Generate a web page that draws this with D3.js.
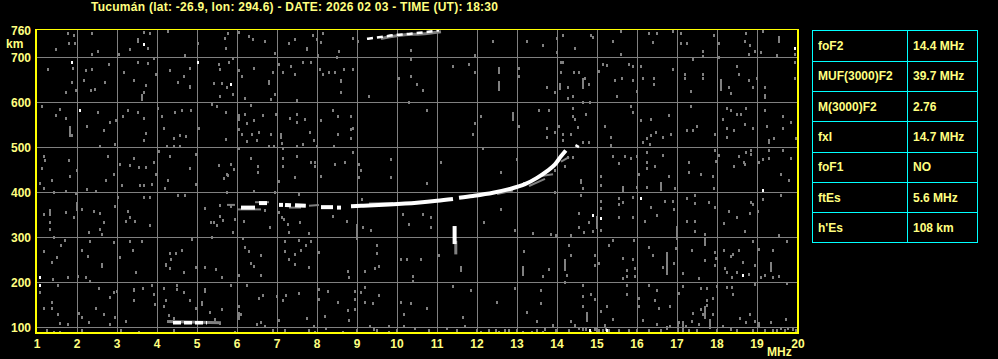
<!DOCTYPE html>
<html>
<head>
<meta charset="utf-8">
<script src="https://cdn.jsdelivr.net/npm/d3@7"></script>
<style>
 body { margin: 0; background: #000; }
 svg { display: block; }
 text { font-family: "Liberation Sans", Arial, sans-serif; font-weight: bold; fill: #ffff80; }
</style>
</head>
<body>
<script>
// header + table
var title = "Tucumán (lat: -26.9, lon: 294.6) - DATE: 2026 02 03 - TIME (UT): 18:30";
var paramNames = ["foF2", "MUF(3000)F2", "M(3000)F2", "fxI", "foF1", "ftEs", "h'Es"];
var paramValues = ["14.4 MHz", "39.7 MHz", "2.76", "14.7 MHz", "NO", "5.6 MHz", "108 km"];

// axes
var freqTicks = [1, 2, 3, 4, 5, 6, 7, 8, 9, 10, 11, 12, 13, 14, 15, 16, 17, 18, 19, 20];
var heightTicks = [100, 200, 300, 400, 500, 600, 700];

// echo traces [MHz, km]
var f2Trace = [
 [[6.1, 366], [6.45, 366]],
 [[6.55, 376], [6.75, 376]],
 [[7.05, 372], [7.15, 372]],
 [[7.2, 372], [7.35, 371]],
 [[7.45, 371], [7.72, 370]],
 [[8.1, 367], [8.4, 367]],
 [[8.5, 366], [8.6, 366]],
 [[8.85, 369], [9.1, 370], [9.8, 373], [10.5, 377], [11.0, 381], [11.4, 385]],
 [[11.55, 388], [11.9, 392], [12.4, 399], [12.8, 407], [13.2, 418], [13.5, 432], [13.75, 447], [13.95, 462], [14.1, 480], [14.22, 493]],
 [[14.49, 500], [14.52, 505]]
];
var f2Shadow = [
 [[5.75, 372], [5.95, 372]],
 [[6.0, 362], [6.6, 362]],
 [[6.45, 378], [6.8, 378]],
 [[7.3, 366], [7.6, 366]],
 [[7.8, 370], [8.05, 372]],
 [[9.3, 375], [9.9, 376]],
 [[12.5, 396], [12.9, 404]],
 [[13.3, 414], [13.7, 430]],
 [[13.6, 436], [13.9, 440]],
 [[14.1, 468], [14.3, 478]]
];
var topTrace = [[9.25, 741], [9.6, 745], [9.9, 749], [10.3, 752], [10.7, 756], [11.05, 760]];
var topShadow = [[9.6, 742], [10.2, 750], [10.6, 752], [11.1, 757]];
var esTrace = [[4.4, 110], [5.25, 110]];
var esShadow = [[4.25, 113], [5.6, 110]];
var spike = [11.44, 285, 325];
var spikeShadow = [11.47, 262, 292];

// vertical noise streaks [MHz, km from, km to]
var streaks = [
 [12.54, 663, 678], [12.54, 626, 648], [12.89, 559, 578], [11.6, 224, 237], [14.74, 111, 133],
 [14.99, 319, 348], [14.19, 226, 252], [13.14, 215, 237], [16.6, 401, 422], [15.64, 401, 415],
 [16.99, 296, 326], [16.74, 215, 267], [17.69, 118, 148], [17.02, 88, 115], [17.16, 88, 115],
 [17.83, 96, 118], [18.1, 626, 652], [19.19, 607, 618], [19.54, 733, 748], [19.29, 507, 518],
 [17.69, 281, 300], [19.34, 222, 245], [3.63, 603, 618], [4.83, 630, 639], [1.82, 523, 547],
 [2.0, 357, 378], [1.33, 348, 363], [4.23, 236, 244], [3.42, 178, 187], [5.21, 178, 188],
 [5.12, 148, 159], [2.62, 233, 244], [3.52, 733, 744], [6.06, 559, 574], [7.1, 518, 532],
 [8.6, 643, 652], [6.96, 704, 711], [7.75, 713, 722], [6.04, 118, 135], [8.99, 295, 330],
 [14.08, 628, 644], [14.64, 628, 653], [16.74, 96, 104], [15.0, 90, 100]
];

// scattered noise dots [MHz, km]
var noise = [
 [1.78,754],[1.92,750],[2.37,754],[3.67,757],[3.82,755],[4.27,758],[1.80,732],[1.96,732],[3.77,721],[1.48,718],
 [2.37,708],[2.52,714],[3.06,708],[3.32,718],[3.92,699],[4.71,705],[5.71,742],[5.73,721],[5.03,732],[1.89,676],
 [1.28,673],[2.23,671],[2.37,673],[2.79,686],[3.17,667],[3.52,690],[3.77,687],[4.32,671],[5.54,686],[5.57,674],
 [4.83,676],[4.68,659],[3.98,664],[1.88,646],[1.98,627],[1.73,624],[2.17,650],[2.46,630],[2.71,646],[2.36,627],
 [3.43,650],[3.67,624],[3.72,638],[4.52,646],[5.42,644],[5.62,644],[5.57,615],[1.12,591],[1.47,572],[1.58,585],
 [1.73,566],[1.88,527],[2.25,548],[2.52,579],[2.67,539],[2.83,557],[2.98,561],[2.94,507],[2.58,504],[3.15,569],
 [3.27,584],[3.52,579],[3.67,566],[3.72,532],[3.67,517],[4.02,587],[4.12,569],[4.18,544],[4.44,578],[4.62,584],
 [4.42,521],[4.57,527],[4.72,526],[4.86,584],[5.06,542],[5.37,596],[5.50,591],[5.73,578],[5.73,518],[4.25,504],
 [4.42,504],[4.58,504],[4.06,492],[1.17,481],[1.21,472],[1.12,455],[1.79,472],[1.83,437],[2.00,450],[1.37,428],
 [1.08,421],[1.17,410],[1.42,400],[1.73,403],[1.98,398],[2.25,407],[2.48,403],[2.77,481],[2.73,428],[2.92,440],
 [3.07,462],[3.32,461],[3.42,477],[3.54,456],[3.73,456],[3.92,467],[3.98,440],[3.57,416],[3.68,416],[3.12,416],
 [3.87,419],[4.21,410],[4.27,427],[4.33,481],[4.83,453],[4.98,486],[4.98,418],[5.54,461],[5.67,431],[5.77,438],
 [4.52,394],[4.69,394],[3.83,390],[3.02,390],[1.33,355],[1.17,351],[1.32,333],[1.32,318],[1.42,301],[1.73,357],
 [1.92,345],[2.12,363],[2.42,358],[2.57,355],[2.67,333],[2.31,311],[2.58,318],[2.62,308],[2.96,369],[3.27,359],
 [3.32,344],[3.22,336],[3.46,336],[3.83,327],[3.68,390],[5.21,366],[5.35,335],[5.42,335],[5.50,327],[5.58,347],
 [5.64,339],[5.38,300],[5.57,372],[1.17,270],[1.61,284],[1.50,256],[1.37,246],[1.71,293],[2.12,271],[2.28,259],
 [2.33,292],[2.92,289],[3.07,256],[3.32,292],[3.40,271],[3.63,292],[3.47,222],[4.32,265],[4.35,252],[4.33,231],
 [4.62,272],[4.48,265],[4.67,222],[4.97,234],[5.21,234],[5.47,230],[5.62,212],[4.87,296],[1.07,178],[1.40,207],
 [1.52,194],[1.78,212],[2.02,215],[2.23,212],[2.33,203],[2.56,187],[2.83,167],[2.93,178],[3.0,181],[3.42,161],
 [3.65,188],[3.92,173],[3.95,151],[3.88,194],[4.17,187],[4.23,161],[4.17,148],[4.50,194],[4.50,185],[4.67,178],
 [4.83,161],[4.97,144],[5.33,133],[5.62,141],[5.46,118],[5.57,110],[1.37,156],[1.17,144],[1.37,142],[1.52,129],
 [1.57,110],[1.77,108],[2.05,132],[2.13,124],[2.29,111],[2.47,144],[2.67,129],[2.96,122],[2.83,108],[3.23,114],
 [3.1,93],[1.25,95],[1.43,90],[1.57,90],[2.13,93],[3.55,90],[4.29,127],[4.42,120],[4.33,114],[4.42,95],
 [5.77,754],[6.06,757],[6.29,747],[6.41,741],[6.71,736],[7.29,732],[7.46,741],[7.89,750],[7.99,741],[8.10,733],
 [8.16,754],[8.02,705],[8.54,714],[8.50,701],[8.89,744],[9.02,736],[10.35,717],[10.35,696],[5.79,689],[5.89,698],
 [6.06,671],[6.12,659],[6.43,676],[6.79,647],[6.79,643],[6.89,668],[6.95,618],[7.04,686],[7.14,667],[7.35,681],
 [7.45,664],[7.64,690],[7.85,690],[8.08,674],[8.16,662],[8.29,668],[8.46,668],[8.68,673],[8.89,673],[8.60,624],
 [9.29,615],[10.04,655],[10.36,659],[10.49,641],[10.29,601],[5.75,633],[5.89,619],[6.19,610],[6.85,607],[7.49,606],
 [6.35,595],[6.21,573],[6.24,553],[6.43,561],[6.66,572],[6.54,535],[6.06,541],[6.12,529],[6.24,514],[6.37,529],
 [6.49,517],[6.85,529],[6.98,573],[7.13,510],[7.33,566],[7.49,573],[7.49,557],[7.70,564],[7.83,533],[7.93,517],
 [8.11,561],[8.39,584],[8.52,569],[8.52,529],[8.85,569],[8.86,541],[8.91,544],[8.85,520],[6.06,499],[6.79,502],
 [6.93,502],[7.14,499],[7.49,502],[7.64,507],[7.99,502],[8.43,504],[8.89,490],[6.35,477],[5.85,464],[5.93,452],
 [6.52,459],[6.52,446],[7.14,477],[7.16,459],[7.49,481],[7.85,468],[7.96,468],[7.96,458],[8.46,464],[8.69,468],
 [8.10,437],[9.06,464],[9.09,450],[9.06,433],[9.85,473],[9.84,433],[5.75,440],[7.04,425],[7.46,433],[6.96,400],
 [7.54,397],[6.42,403],[5.74,401],[9.12,385],[5.85,369],[5.96,341],[5.89,311],[6.18,336],[6.71,360],[6.83,323],
 [7.06,357],[7.13,345],[7.18,341],[7.27,329],[7.31,311],[7.58,333],[7.81,310],[8.39,347],[8.74,336],[9.14,323],
 [9.34,316],[10.14,351],[10.29,329],[6.14,298],[6.21,278],[6.31,270],[6.35,243],[6.43,237],[6.60,261],[6.06,216],
 [5.84,195],[6.24,195],[6.60,216],[7.21,292],[7.21,270],[7.31,252],[7.46,262],[7.46,240],[7.56,293],[7.60,271],
 [7.72,283],[7.79,234],[7.85,292],[8.04,268],[8.78,225],[8.81,212],[9.19,225],[9.44,231],[9.49,283],[9.49,265],
 [9.56,237],[10.10,252],[10.25,252],[10.39,213],[10.39,203],[6.06,148],[6.11,129],[6.54,166],[6.64,172],[6.99,169],
 [7.16,161],[7.23,172],[7.54,176],[8.04,185],[8.06,164],[8.21,126],[8.27,181],[8.52,157],[8.78,138],[8.81,117],
 [8.94,181],[8.96,164],[8.96,141],[9.10,178],[9.19,190],[9.21,157],[9.39,155],[9.54,172],[10.10,157],[10.18,129],
 [10.36,154],[6.49,107],[6.60,111],[6.71,102],[6.89,93],[7.04,117],[7.21,95],[7.74,121],[7.81,93],[7.93,104],
 [7.96,90],[8.23,98],[8.64,90],[9.33,102],[9.43,96],[9.79,102],[9.79,90],[10.18,104],[10.46,99],[5.96,90],
 [12.41,736],[13.24,736],[13.64,727],[14.14,750],[14.46,720],[14.84,750],[14.89,745],[13.99,742],[13.99,711],[11.96,705],
 [11.39,681],[11.79,684],[11.96,668],[13.04,677],[13.04,659],[13.74,635],[13.96,624],[14.10,689],[14.14,690],[14.10,668],
 [14.28,635],[14.43,667],[14.54,668],[14.71,655],[14.81,641],[15.04,670],[15.14,686],[14.27,610],[14.41,615],[14.64,601],
 [14.82,601],[10.64,628],[10.49,641],[10.74,584],[12.10,569],[11.96,554],[13.04,548],[13.56,584],[13.79,584],[13.74,542],
 [13.74,524],[13.96,533],[14.06,548],[14.14,529],[14.14,517],[14.34,529],[14.39,587],[14.39,569],[14.46,563],[14.52,545],
 [14.73,573],[14.81,511],[15.19,548],[14.64,511],[11.91,529],[12.14,499],[11.10,467],[10.76,421],[12.60,446],[12.99,473],
 [13.18,421],[13.96,450],[14.19,459],[14.39,478],[14.27,478],[14.59,428],[14.59,422],[14.64,410],[15.10,437],[15.10,416],
 [13.96,401],[14.59,394],[10.64,351],[10.86,344],[10.86,324],[12.18,333],[12.60,364],[12.96,316],[13.39,310],[13.85,308],
 [13.98,305],[14.34,304],[14.54,355],[14.54,324],[14.68,311],[14.79,335],[14.89,315],[15.10,381],[15.10,366],[15.10,317],
 [11.04,261],[10.59,252],[12.94,188],[13.18,270],[13.64,215],[13.79,230],[14.19,201],[14.24,216],[14.29,283],[14.34,302],
 [14.34,261],[14.94,261],[14.94,238],[15.04,244],[14.64,194],[14.64,170],[14.84,173],[14.94,164],[15.09,136],[15.19,105],
 [11.39,191],[11.85,184],[10.74,144],[11.64,124],[11.71,104],[12.49,157],[13.24,135],[13.61,153],[13.61,182],[13.49,113],
 [13.69,96],[13.89,105],[14.36,113],[14.44,105],[14.74,127],[14.64,148],[14.64,96],[14.94,96],[15.04,93],[15.14,93],
 [15.22,96],[11.24,98],[12.10,90],[12.48,93],[12.56,90],[12.81,93],[13.14,90],[13.38,90],[13.64,90],[13.98,93],
 [14.29,93],[14.56,99],[14.73,96],[14.85,90],[15.60,758],[15.39,736],[15.60,707],[16.29,754],[16.49,754],[16.39,735],
 [16.89,758],[17.10,754],[17.10,732],[17.24,732],[17.66,714],[17.64,702],[17.93,750],[18.04,732],[18.04,701],[18.72,754],
 [18.71,736],[18.82,727],[18.81,708],[18.96,714],[19.10,711],[19.16,758],[19.49,705],[19.94,707],[15.24,683],[15.46,650],
 [15.63,653],[15.79,686],[15.89,680],[15.89,650],[15.99,625],[16.10,681],[16.14,655],[16.43,653],[16.43,641],[16.89,674],
 [17.35,625],[17.39,696],[17.21,664],[17.64,664],[17.21,653],[17.64,653],[18.31,633],[18.35,621],[18.49,681],[18.56,664],
 [18.81,650],[18.89,633],[18.99,653],[19.19,635],[19.94,690],[19.94,655],[15.49,613],[15.85,591],[15.89,579],[16.10,561],
 [16.35,564],[16.79,572],[16.48,533],[16.35,527],[16.24,521],[16.16,511],[16.33,507],[16.64,523],[16.85,529],[17.35,591],
 [17.49,548],[17.39,539],[17.24,539],[17.94,529],[18.14,564],[18.24,587],[18.35,582],[18.49,573],[18.60,573],[18.43,538],
 [18.24,544],[18.24,524],[18.72,587],[18.71,552],[18.89,544],[19.19,582],[19.25,548],[19.43,521],[19.64,570],[19.64,544],
 [19.85,557],[19.98,521],[15.35,524],[15.35,505],[15.39,480],[15.54,466],[15.69,481],[15.84,477],[15.99,481],[16.06,441],
 [16.24,490],[16.24,468],[16.24,455],[16.46,459],[16.64,484],[16.79,437],[17.29,468],[17.29,446],[17.60,440],[17.89,437],
 [17.98,469],[18.04,483],[17.94,495],[18.54,481],[18.43,459],[18.68,468],[18.71,464],[18.72,490],[18.86,495],[18.86,486],
 [19.04,468],[19.14,473],[19.29,477],[19.29,493],[19.64,495],[19.85,477],[19.59,441],[15.99,412],[16.24,412],[16.96,409],
 [17.93,409],[19.79,427],[15.54,388],[15.54,375],[15.64,379],[15.89,390],[16.35,367],[16.71,381],[16.89,381],[16.93,363],
 [17.24,388],[17.44,393],[17.44,376],[17.81,379],[17.94,367],[18.31,358],[18.85,379],[18.89,373],[19.02,358],[19.14,385],
 [19.60,393],[15.54,344],[15.89,345],[16.20,336],[16.49,350],[17.24,336],[17.44,336],[17.46,314],[17.69,308],[18.18,332],
 [18.49,344],[18.71,314],[18.82,355],[19.56,304],[19.74,292],[15.39,293],[15.29,283],[15.93,293],[16.31,278],[16.98,277],
 [16.39,261],[16.64,233],[16.93,244],[17.16,221],[17.37,272],[17.54,209],[17.69,249],[17.94,267],[17.94,238],[17.98,253],
 [18.18,271],[18.19,231],[18.24,224],[18.35,258],[18.39,262],[18.54,272],[18.64,246],[18.49,224],[18.37,212],[18.79,218],
 [18.89,292],[18.94,238],[19.04,274],[19.10,212],[19.19,216],[19.39,212],[19.56,215],[19.39,271],[15.64,253],[15.74,227],
 [15.74,215],[15.89,252],[15.96,232],[15.94,215],[15.64,209],[15.74,193],[15.74,173],[16.04,166],[16.04,148],[16.29,193],
 [16.49,184],[16.45,161],[16.54,144],[16.83,148],[17.04,176],[17.16,191],[17.41,132],[17.60,187],[17.60,141],[17.64,129],
 [17.74,188],[17.74,161],[17.74,149],[17.89,166],[17.99,191],[17.89,129],[18.24,190],[18.37,190],[18.39,175],[18.57,121],
 [18.82,129],[18.94,196],[18.94,114],[19.04,109],[19.35,111],[19.72,118],[19.74,198],[15.24,148],[15.39,118],[16.14,117],
 [16.49,108],[16.83,102],[17.06,111],[17.23,104],[17.38,114],[17.54,107],[17.83,105],[18.14,104],[18.35,96],[18.72,111],
 [19.06,104],[19.39,93],[19.61,99],[19.77,98],[19.89,96],[19.98,93],[15.3,95],[15.55,93],[15.8,93],[16.0,95],
 [16.3,93],[16.6,95],[17.3,93],[17.5,95],[18.0,93],[18.5,93],[18.9,95],[19.2,93],[19.5,95],[19.7,93],
 [12.0,95],[12.3,93],[12.7,95],[13.0,95],[13.5,93],[10.8,93],[11.5,93],[9.0,93],[9.5,95],[10.0,93]
];
var whiteDots = [
 [3.67,729],[1.88,689],[5.02,690],[2.07,582],[1.08,212],[1.08,194],[5.85,641],[14.89,350],[15.10,342],
 [19.94,721],[19.14,406],[16.10,387],[18.64,216],[14.82,93],[15.25,93]
];

var x = d3.scaleLinear().domain([1, 20]).range([37, 797]);
var y = d3.scaleLinear().domain([100, 700]).range([327.3, 57.3]);

var svg = d3.select("body").append("svg")
 .attr("width", 998)
 .attr("height", 359)
 .style("background", "#000");

// title
svg.append("text")
 .attr("x", 91)
 .attr("y", 11)
 .attr("textLength", 407)
 .attr("lengthAdjust", "spacing")
 .style("font-size", "12px")
 .text(title);

// grid
var grid = svg.append("g").attr("shape-rendering", "crispEdges");
grid.selectAll(".vgrid")
 .data(freqTicks.slice(1, -1))
 .enter().append("line")
 .attr("x1", function(d) { return Math.round(x(d)) + 0.5; })
 .attr("x2", function(d) { return Math.round(x(d)) + 0.5; })
 .attr("y1", y(763))
 .attr("y2", y(90))
 .attr("stroke", "#808080");
grid.selectAll(".hgrid")
 .data(heightTicks)
 .enter().append("line")
 .attr("x1", x(1))
 .attr("x2", x(20))
 .attr("y1", function(d) { return Math.round(y(d)) + 0.5; })
 .attr("y2", function(d) { return Math.round(y(d)) + 0.5; })
 .attr("stroke", "#808080");

// noise
var dots = svg.append("g").attr("shape-rendering", "crispEdges");
dots.selectAll(".n")
 .data(noise)
 .enter().append("rect")
 .attr("x", function(d) { return Math.round(x(d[0])) - 1; })
 .attr("y", function(d) { return Math.round(y(d[1])) - 1; })
 .attr("width", 2)
 .attr("height", 3)
 .attr("fill", "#808080");
dots.selectAll(".s")
 .data(streaks)
 .enter().append("rect")
 .attr("x", function(d) { return Math.round(x(d[0])) - 1; })
 .attr("y", function(d) { return Math.round(y(d[2])); })
 .attr("width", 2)
 .attr("height", function(d) { return Math.max(3, Math.round(y(d[1]) - y(d[2]))); })
 .attr("fill", "#808080");
dots.selectAll(".w")
 .data(whiteDots)
 .enter().append("rect")
 .attr("x", function(d) { return Math.round(x(d[0])) - 1; })
 .attr("y", function(d) { return Math.round(y(d[1])) - 1; })
 .attr("width", 2)
 .attr("height", 3)
 .attr("fill", "#fff");

// traces
var line = d3.line()
 .x(function(d) { return x(d[0]); })
 .y(function(d) { return y(d[1]); })
 .curve(d3.curveMonotoneX);

var tr = svg.append("g").attr("fill", "none");
tr.selectAll(".f2s")
 .data(f2Shadow)
 .enter().append("path")
 .attr("d", line)
 .attr("stroke", "#808080")
 .attr("stroke-width", 2);
tr.append("path").attr("d", line(topShadow)).attr("stroke", "#808080").attr("stroke-width", 3);
tr.append("path").attr("d", line(esShadow)).attr("stroke", "#808080").attr("stroke-width", 3);
tr.selectAll(".f2")
 .data(f2Trace)
 .enter().append("path")
 .attr("d", line)
 .attr("stroke", "#fff")
 .attr("stroke-width", 4);
tr.append("path").attr("d", line(topTrace)).attr("stroke", "#fff").attr("stroke-width", 2.5)
 .attr("stroke-dasharray", "6,4");
tr.append("path").attr("d", line(esTrace)).attr("stroke", "#fff").attr("stroke-width", 3.5)
 .attr("stroke-dasharray", "8,3");
svg.append("rect")
 .attr("x", x(spikeShadow[0]) - 1.5).attr("y", y(spikeShadow[2]))
 .attr("width", 3).attr("height", y(spikeShadow[1]) - y(spikeShadow[2]))
 .attr("fill", "#808080");
svg.append("rect")
 .attr("x", x(spike[0]) - 2).attr("y", y(spike[2]))
 .attr("width", 4).attr("height", y(spike[1]) - y(spike[2]))
 .attr("fill", "#fff");

// frame
var frame = svg.append("g").attr("stroke", "#ffff00").attr("shape-rendering", "crispEdges");
frame.append("line").attr("x1", 36).attr("x2", 799).attr("y1", 29.5).attr("y2", 29.5).attr("stroke-width", 1);
frame.append("line").attr("x1", 36).attr("x2", 799).attr("y1", 333).attr("y2", 333).attr("stroke-width", 2);
frame.append("line").attr("x1", 36).attr("x2", 36).attr("y1", 29).attr("y2", 334).attr("stroke-width", 2);
frame.append("line").attr("x1", 798).attr("x2", 798).attr("y1", 29).attr("y2", 334).attr("stroke-width", 2);

// y labels
svg.selectAll(".yl")
 .data(heightTicks.concat([760]))
 .enter().append("text")
 .attr("x", 31)
 .attr("y", function(d) { return y(d) + 4.5; })
 .attr("text-anchor", "end")
 .style("font-size", "12px")
 .text(function(d) { return d; });
svg.append("text").attr("x", 6).attr("y", 48).style("font-size", "12px").text("km");

// x labels
svg.selectAll(".xl")
 .data(freqTicks)
 .enter().append("text")
 .attr("x", function(d) { return x(d) + (d == 20 ? 1 : 0); })
 .attr("y", 348)
 .attr("text-anchor", "middle")
 .style("font-size", "12px")
 .text(function(d) { return d; });
svg.append("text").attr("x", 767).attr("y", 356).style("font-size", "12px").text("MHz");

// parameter table
var rowY = d3.scaleLinear().domain([0, paramNames.length]).range([30.5, 242.5]);
var tbl = svg.append("g");
tbl.append("rect")
 .attr("x", 812.5).attr("y", 30.5)
 .attr("width", 165).attr("height", 212)
 .attr("fill", "none").attr("stroke", "#00ffff");
tbl.append("line")
 .attr("x1", 907.5).attr("x2", 907.5).attr("y1", 30.5).attr("y2", 242.5)
 .attr("stroke", "#00ffff");
tbl.selectAll(".rl")
 .data(paramNames.slice(1))
 .enter().append("line")
 .attr("x1", 812.5).attr("x2", 977.5)
 .attr("y1", function(d, i) { return Math.round(rowY(i + 1)) + 0.5; })
 .attr("y2", function(d, i) { return Math.round(rowY(i + 1)) + 0.5; })
 .attr("stroke", "#00ffff");
tbl.selectAll(".pn")
 .data(paramNames)
 .enter().append("text")
 .attr("x", 818)
 .attr("y", function(d, i) { return (rowY(i) + rowY(i + 1)) / 2 + 4.5; })
 .style("font-size", "12px")
 .text(function(d) { return d; });
tbl.selectAll(".pv")
 .data(paramValues)
 .enter().append("text")
 .attr("x", 913)
 .attr("y", function(d, i) { return (rowY(i) + rowY(i + 1)) / 2 + 4.5; })
 .style("font-size", "12px")
 .text(function(d) { return d; });
</script>
</body>
</html>
